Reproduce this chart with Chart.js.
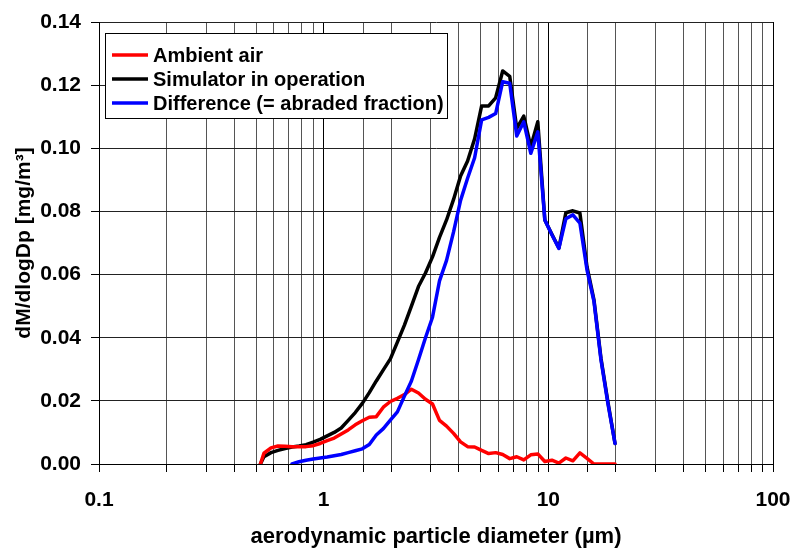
<!DOCTYPE html>
<html><head><meta charset="utf-8">
<script src="https://cdn.jsdelivr.net/npm/chart.js@4.4.1/dist/chart.umd.min.js"></script>
<style>html,body{margin:0;padding:0;background:#fff;}#wrap{width:795px;height:550px;}</style>
</head><body><div id="wrap"><canvas id="c" width="795" height="550"></canvas></div>
<script>
// aerodynamic particle diameter channels (µm)
const diameters = [0.523, 0.542, 0.583, 0.626, 0.673, 0.723, 0.777, 0.835, 0.898, 0.965,
  1.037, 1.114, 1.197, 1.286, 1.382, 1.486, 1.596, 1.715, 1.843, 1.981,
  2.129, 2.288, 2.458, 2.642, 2.839, 3.051, 3.278, 3.523, 3.786, 4.068,
  4.371, 4.698, 5.048, 5.425, 5.829, 6.264, 6.732, 7.234, 7.774, 8.354,
  8.977, 9.647, 10.37, 11.14, 11.97, 12.86, 13.82, 14.86, 15.96, 17.15,
  18.43, 19.81];
const ambientAir = [0, 0.0034, 0.0051, 0.0057, 0.0056, 0.0055, 0.0055, 0.0055, 0.0058, 0.0065,
  0.0074, 0.0082, 0.0095, 0.0108, 0.0124, 0.0137, 0.0148, 0.0150, 0.0180, 0.0198,
  0.0208, 0.0220, 0.0237, 0.0225, 0.0205, 0.0190, 0.0138, 0.0120, 0.0097, 0.0070,
  0.0055, 0.0054, 0.0043, 0.0033, 0.0036, 0.0030, 0.0017, 0.0023, 0.0013, 0.0029,
  0.0032, 0.0008, 0.0012, 0.0003, 0.0019, 0.0010, 0.0035, 0.0018, 0, 0,
  0, 0];
const simulatorInOperation = [0, 0.0023, 0.0036, 0.0043, 0.0049, 0.0054, 0.0057, 0.0061, 0.0069, 0.0078,
  0.0089, 0.0100, 0.0114, 0.0138, 0.0163, 0.0192, 0.0226, 0.0263, 0.0298, 0.0333,
  0.0386, 0.0440, 0.0500, 0.0562, 0.0605, 0.0656, 0.0718, 0.0773, 0.0838, 0.0912,
  0.0960, 0.1030, 0.1134, 0.1134, 0.1160, 0.1245, 0.1228, 0.1063, 0.1102, 0.1005,
  0.1084, 0.0773, 0.0728, 0.0684, 0.0796, 0.0802, 0.0795, 0.0625, 0.0520, 0.0335,
  0.0195, 0.0065];
const differenceAbraded = [null, null, null, null, null, 0, 0.0007, 0.0012, 0.0016, 0.0019,
  0.0022, 0.0026, 0.0030, 0.0036, 0.0042, 0.0048, 0.0062, 0.0092, 0.0112, 0.0139,
  0.0165, 0.0215, 0.0263, 0.0330, 0.0400, 0.0465, 0.0580, 0.0645, 0.0735, 0.0835,
  0.0905, 0.0970, 0.1090, 0.1098, 0.1110, 0.1211, 0.1206, 0.1039, 0.1084, 0.0984,
  0.1052, 0.0773, 0.0726, 0.0683, 0.0777, 0.0789, 0.0763, 0.0615, 0.0515, 0.0330,
  0.0190, 0.0065];
const seriesLabels = ['Ambient air', 'Simulator in operation', 'Difference (= abraded fraction)'];
const seriesColors = ['#ff0000', '#000000', '#0000ff'];
const xTickLabels = ['0.1', '1', '10', '100'];
const yTickValues = [0, 0.02, 0.04, 0.06, 0.08, 0.10, 0.12, 0.14];

const FONT = '"Liberation Sans", Arial, sans-serif';
function pts(arr) {
  const out = [];
  arr.forEach((v, i) => { if (v !== null) out.push({ x: diameters[i], y: v }); });
  return out;
}
function isDecade(v) {
  const l = Math.log10(v);
  return Math.abs(l - Math.round(l)) < 1e-6;
}

const boxLegend = {
  id: 'boxLegend',
  afterDraw(chart) {
    const ctx = chart.ctx;
    ctx.save();
    ctx.fillStyle = '#fff';
    ctx.fillRect(105.5, 33.5, 342, 85);
    ctx.strokeStyle = '#000';
    ctx.lineWidth = 1;
    ctx.strokeRect(105.5, 33.5, 342, 85);
    chart.data.datasets.forEach((ds, i) => {
      const y = 55 + i * 24;
      ctx.strokeStyle = ds.borderColor;
      ctx.lineWidth = 3.5;
      ctx.beginPath(); ctx.moveTo(112, y); ctx.lineTo(148, y); ctx.stroke();
      ctx.fillStyle = '#000';
      ctx.font = 'bold 20px ' + FONT;
      ctx.textBaseline = 'middle';
      ctx.textAlign = 'left';
      ctx.fillText(ds.label, 153, y + 1);
    });
    ctx.restore();
  }
};

new Chart(document.getElementById('c'), {
  type: 'line',
  data: {
    datasets: [
      { label: seriesLabels[0], data: pts(ambientAir), borderColor: seriesColors[0], order: 2 },
      { label: seriesLabels[1], data: pts(simulatorInOperation), borderColor: seriesColors[1], order: 3 },
      { label: seriesLabels[2], data: pts(differenceAbraded), borderColor: seriesColors[2], order: 1 }
    ]
  },
  options: {
    responsive: false,
    devicePixelRatio: 1,
    animation: false,
    events: [],
    layout: { padding: { left: 0, right: 22, top: 22, bottom: 0 } },
    elements: {
      line: { borderWidth: 3.5, tension: 0, fill: false, borderJoinStyle: 'round', borderCapStyle: 'round' },
      point: { radius: 0 }
    },
    plugins: { legend: { display: false }, tooltip: { enabled: false } },
    scales: {
      x: {
        type: 'logarithmic',
        min: 0.1, max: 100,
        border: { display: true, color: '#000', width: 1 },
        grid: {
          color: (c) => (c.tick && isDecade(c.tick.value)) ? '#000' : '#555',
          lineWidth: 1,
          drawTicks: true,
          tickLength: 8,
          tickColor: '#000'
        },
        ticks: {
          autoSkip: false,
          maxRotation: 0,
          padding: 16,
          color: '#000',
          font: { family: FONT, size: 21, weight: 'bold' },
          callback: (v) => {
            if (!isDecade(v)) return '';
            const idx = Math.round(Math.log10(v)) + 1;
            return xTickLabels[idx];
          }
        },
        title: {
          display: true,
          text: 'aerodynamic particle diameter (µm)',
          color: '#000',
          font: { family: FONT, size: 22, weight: 'bold' },
          padding: { top: 0, bottom: 0 }
        },
        afterFit: (s) => { s.height = 86; s.paddingLeft = 0; s.paddingRight = 0; }
      },
      y: {
        type: 'linear',
        min: 0, max: 0.14,
        afterBuildTicks: (s) => { s.ticks = yTickValues.map(v => ({ value: v })); },
        border: { display: true, color: '#000', width: 1 },
        grid: { color: '#222', lineWidth: 1, drawTicks: true, tickLength: 8, tickColor: '#000' },
        ticks: {
          padding: 10,
          color: '#000',
          font: { family: FONT, size: 21, weight: 'bold' },
          callback: (v) => Number(v).toFixed(2)
        },
        title: {
          display: true,
          text: 'dM/dlogDp [mg/m³]',
          color: '#000',
          font: { family: FONT, size: 21, weight: 'bold' },
          padding: { top: 12, bottom: 0 }
        },
        afterFit: (s) => { s.width = 99; s.paddingTop = 0; s.paddingBottom = 0; }
      }
    }
  },
  plugins: [boxLegend]
});
</script>
</body></html>
